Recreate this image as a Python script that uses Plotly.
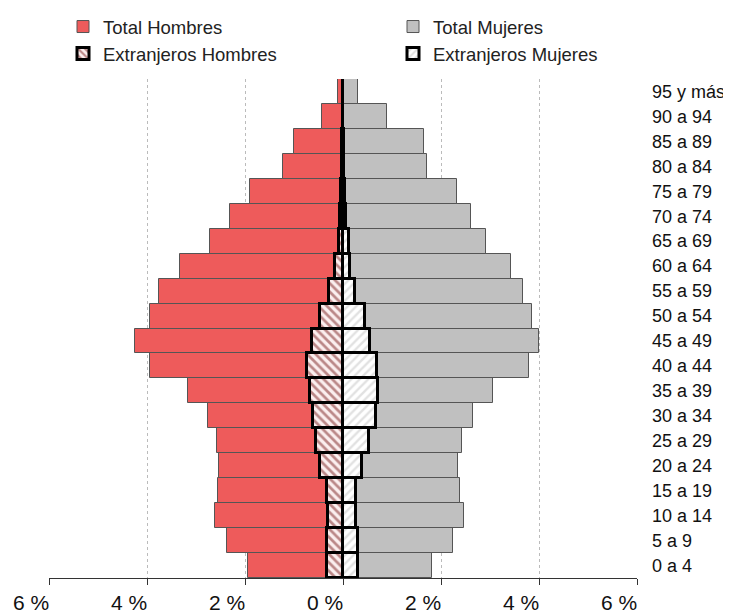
import plotly.graph_objects as go

categories = ["0 a 4", "5 a 9", "10 a 14", "15 a 19", "20 a 24", "25 a 29", "30 a 34",
              "35 a 39", "40 a 44", "45 a 49", "50 a 54", "55 a 59", "60 a 64", "65 a 69",
              "70 a 74", "75 a 79", "80 a 84", "85 a 89", "90 a 94", "95 y más"]

total_hombres = [1.93, 2.37, 2.62, 2.55, 2.54, 2.58, 2.75, 3.16, 3.94, 4.24,
                 3.94, 3.76, 3.33, 2.71, 2.30, 1.89, 1.22, 0.99, 0.43, 0.10]
total_mujeres = [1.82, 2.24, 2.47, 2.38, 2.35, 2.43, 2.65, 3.06, 3.80, 3.99,
                 3.85, 3.67, 3.43, 2.91, 2.62, 2.33, 1.71, 1.66, 0.90, 0.31]
extranjeros_hombres = [0.33, 0.33, 0.31, 0.32, 0.46, 0.56, 0.61, 0.67, 0.74, 0.64,
                       0.47, 0.29, 0.16, 0.08, 0.06, 0.04, 0.03, 0.02, 0.01, 0.01]
extranjeros_mujeres = [0.30, 0.31, 0.27, 0.27, 0.39, 0.54, 0.67, 0.71, 0.69, 0.56,
                       0.44, 0.25, 0.15, 0.12, 0.07, 0.04, 0.03, 0.02, 0.01, 0.01]

tick_vals = [-6, -4, -2, 0, 2, 4, 6]
tick_text = ["6 %", "4 %", "2 %", "0 %", "2 %", "4 %", "6 %"]

FONT = "Liberation Sans, Arial, sans-serif"
W, H = 723, 605  # page body adds an 8px offset

fig = go.Figure()

fig.add_trace(go.Bar(
    y=categories, x=[-v for v in total_hombres], orientation="h",
    name="Total Hombres", legend="legend",
    marker=dict(color="#EE5B5B", line=dict(color="#555555", width=1)),
))
fig.add_trace(go.Bar(
    y=categories, x=total_mujeres, orientation="h",
    name="Total Mujeres", legend="legend2",
    marker=dict(color="#C0C0C0", line=dict(color="#555555", width=1)),
))
fig.add_trace(go.Bar(
    y=categories, x=[-v for v in extranjeros_hombres], orientation="h",
    name="Extranjeros Hombres", legend="legend",
    marker=dict(color="#F6E4E4", line=dict(color="#000000", width=3),
                pattern=dict(shape="\\", fgcolor="#7A1F1F", bgcolor="#FBEFEF",
                             size=6, solidity=0.45)),
))
fig.add_trace(go.Bar(
    y=categories, x=extranjeros_mujeres, orientation="h",
    name="Extranjeros Mujeres", legend="legend2",
    marker=dict(color="#FFFFFF", line=dict(color="#000000", width=3),
                pattern=dict(shape="/", fgcolor="#C4C4C4", bgcolor="#FFFFFF",
                             size=6, solidity=0.4)),
))

legend_font = dict(size=18.5, family=FONT, color="#222222")

fig.update_layout(
    width=W, height=H,
    margin=dict(l=41, r=94, t=71, b=35, autoexpand=False),
    paper_bgcolor="white", plot_bgcolor="white",
    barmode="overlay", bargap=0,
    font=dict(family=FONT, color="#222222"),
    showlegend=True,
    legend=dict(
        xref="container", yref="container", x=55 / W, y=1 + 4 / H,
        xanchor="left", yanchor="top", orientation="v",
        font=legend_font, bgcolor="rgba(0,0,0,0)", itemwidth=30,
    ),
    legend2=dict(
        xref="container", yref="container", x=385 / W, y=1 + 4 / H,
        xanchor="left", yanchor="top", orientation="v",
        font=legend_font, bgcolor="rgba(0,0,0,0)", itemwidth=30,
    ),
    xaxis=dict(
        range=[-6, 6], tickmode="array", tickvals=tick_vals, ticktext=tick_text,
        showgrid=True, gridcolor="#BBBBBB", griddash="dot", gridwidth=1,
        zeroline=False, showline=True, linecolor="#333333", linewidth=1,
        ticks="outside", ticklen=6, tickcolor="#333333",
        tickfont=dict(size=21, family=FONT, color="#111111"),
        ticklabelshift=-18, fixedrange=True, automargin=False,
    ),
    yaxis=dict(
        side="right", type="category", categoryorder="array", categoryarray=categories,
        showgrid=False, zeroline=False, showline=False, ticks="",
        tickfont=dict(size=18, family=FONT, color="#111111"),
        ticklabelstandoff=14, fixedrange=True, automargin=False,
    ),
)

fig.write_html("out.html")
